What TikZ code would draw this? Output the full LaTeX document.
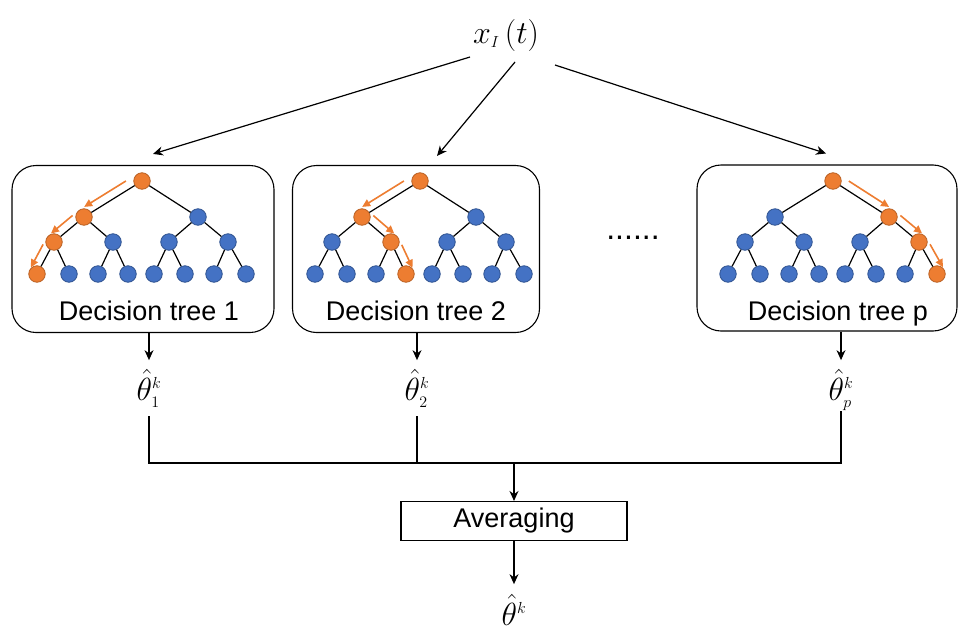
\RequirePackage{fix-cm}
\documentclass[tikz,border=0pt]{standalone}
\usepackage{fontspec}
\setmainfont{Liberation Sans}
\usetikzlibrary{arrows.meta,calc}

\definecolor{treeblue}{HTML}{4472C4}
\definecolor{blueedge}{HTML}{2F528F}
\definecolor{treeorange}{HTML}{ED7D31}
\definecolor{orangeedge}{HTML}{B85F22}

\tikzset{
  leaf/.style={circle, fill=treeblue, draw=blueedge, line width=0.8pt, minimum size=16.5pt, inner sep=0pt},
  hot/.style={leaf, fill=treeorange, draw=orangeedge},
  hotarrow/.style={treeorange, line width=1.6pt, -{Triangle[length=8pt,width=7.5pt]}},
  treebox/.style={draw, rounded corners=24pt, line width=1.1pt},
  wire/.style={line width=1.2pt},
  arr/.style={wire, -{Stealth[length=10pt,width=9pt]}},
  txt/.style={font=\fontsize{27}{30}\selectfont},
  eq/.style={font=\fontsize{32}{36}\selectfont, inner sep=0pt},
}

% one decision tree: name, root x, root y, leaf that is reached
\newcommand{\dtree}[4]{
  \foreach \i/\dx/\dy/\lv in {1/0/0/1, 2/-58/36/2, 3/56/36/2,
      4/-88/61/3, 5/-29/61/3, 6/27/61/3, 7/86/61/3,
      8/-105/93/4, 9/-73/93/4, 10/-44/93/4, 11/-14/93/4,
      12/12/93/4, 13/43/93/4, 14/72/93/4, 15/104/93/4}{
    \pgfmathtruncatemacro\anc{#4/2^(4-\lv)}
    \ifnum\anc=\i \def\tone{hot}\else\def\tone{leaf}\fi
    \node[\tone] (#1-\i) at (#2+\dx, #3+\dy) {};
  }
  \foreach \i in {2,...,15}{
    \pgfmathtruncatemacro\dad{\i/2}
    \draw[line width=1.2pt] (#1-\dad) -- (#1-\i);
  }
  % path taken through the tree
  \foreach \lv in {1,2,3}{
    \pgfmathtruncatemacro\kid{#4/2^(3-\lv)}
    \pgfmathtruncatemacro\dad{\kid/2}
    \pgfmathsetmacro\side{isodd(\kid) ? 90 : -90}
    \draw[hotarrow] ($(#1-\dad)!.2!(#1-\kid)!8.5pt!\side:(#1-\kid)$)
      -- ($(#1-\dad)!.92!(#1-\kid)!8.5pt!\side:(#1-\kid)$);
  }
}

\begin{document}
\begin{tikzpicture}[x=1pt, y=-1pt]
  \useasboundingbox (0,0) rectangle (960,632);

  \node[eq] (xt) at (506,35) {$x_{\scriptscriptstyle I}\,\bigl(t\bigr)$};

  % the trees
  \node[treebox, minimum width=262pt, minimum height=167pt] (box1) at (143,249) {};
  \node[treebox, minimum width=247pt, minimum height=167pt] (box2) at (416,249) {};
  \node[treebox, minimum width=260pt, minimum height=166pt] (boxp) at (827,248) {};
  \dtree{ta}{142}{181}{8}
  \dtree{tb}{420}{181}{11}
  \dtree{tp}{833}{181}{15}
  \node[txt, anchor=base] (lab1) at (149,320) {Decision tree 1};
  \node[txt, anchor=base] (lab2) at (416,320) {Decision tree 2};
  \node[txt, anchor=base] (labp) at (838,320) {Decision tree p};
  \node[font=\fontsize{32}{34}\selectfont] (dots) at (633,238) {......};

  \draw[arr] ([xshift=-36pt,yshift=-22pt]xt.center) -- ([xshift=10pt,yshift=11pt]box1.north);
  \draw[arr] ([xshift=9pt,yshift=-27pt]xt.center) -- ([xshift=21pt,yshift=9pt]box2.north);
  \draw[arr] ([xshift=49pt,yshift=-30pt]xt.center) -- ([xshift=-1pt,yshift=11pt]boxp.north);

  % outputs of the trees
  \node[eq, anchor=base] (th1) at (149,400) {$\hat{\theta}^{\scriptscriptstyle k}_{\scriptscriptstyle 1}$};
  \node[eq, anchor=base] (th2) at (417,400) {$\hat{\theta}^{\scriptscriptstyle k}_{\scriptscriptstyle 2}$};
  \node[eq, anchor=base] (thp) at (841,400) {$\hat{\theta}^{\scriptscriptstyle k}_{\scriptscriptstyle p}$};
  \draw[arr, shorten >=9pt] (box1.south -| th1) -- (th1.north);
  \draw[arr, shorten >=9pt] (box2.south -| th2) -- (th2.north);
  \draw[arr, shorten >=9pt] (boxp.south -| thp) -- (thp.north);

  \coordinate (mrg) at (514,463);
  \draw[wire, shorten <=8pt] (th1.south) -- (th1 |- mrg) -- (thp |- mrg) -- (thp.south);
  \draw[wire, shorten <=8pt] (th2.south) -- (th2 |- mrg);

  \node[draw, txt, line width=1.1pt, minimum width=226pt, minimum height=39pt] (avg) at (514,521) {Averaging};
  \draw[arr] (mrg) -- (avg.north);

  \node[eq, anchor=base] (th) at (514,625) {$\hat{\theta}^{\scriptscriptstyle k}$};
  \draw[arr, shorten >=10pt] (avg.south) -- (avg.south |- th.north);
\end{tikzpicture}
\end{document}
